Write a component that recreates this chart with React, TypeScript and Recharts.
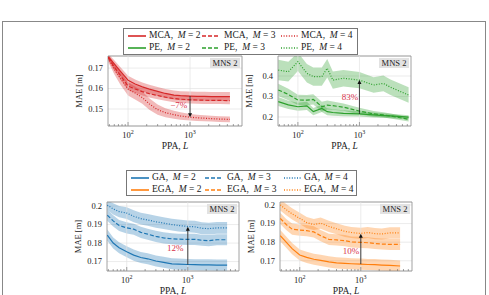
import React from "react";
import {
  ComposedChart,
  Area,
  Line,
  XAxis,
  YAxis,
  CartesianGrid,
  ReferenceLine,
  ReferenceArea,
  ReferenceDot,
} from "recharts";

const FONT = '"Liberation Serif", "DejaVu Serif", serif';
const RED = "#d62728";
const GREEN = "#2ca02c";
const BLUE = "#1f77b4";
const ORANGE = "#ff7f0e";
const NOTE = "#d8314a";

// PPA (points per area) on a log axis
const X_DOMAIN = [47.5, 6890];
const X_TICKS = [50, 60, 70, 80, 90, 100, 200, 300, 400, 500, 600, 700, 800, 900, 1000, 2000, 3000, 4000, 5000, 6000];
const PPA = [48, 60, 75, 100, 130, 170, 220, 300, 400, 550, 700, 1000, 1300, 1700, 2200, 3000, 4400];
const PPA_PE = [48, 70, 100, 140, 178, 245, 300, 370, 550, 1000, 1700, 2450, 3200, 6300];

// MCA
const MCA_M2 = [0.1755, 0.172, 0.1685, 0.1641, 0.1622, 0.1608, 0.1597, 0.1586, 0.1576, 0.1568, 0.1565, 0.1563, 0.1562, 0.1562, 0.1561, 0.1561, 0.1561];
const MCA_M3 = [0.1752, 0.1705, 0.1665, 0.1612, 0.1598, 0.1585, 0.1575, 0.1566, 0.1558, 0.1551, 0.1548, 0.1545, 0.1544, 0.1543, 0.1542, 0.1542, 0.1541];
const MCA_M4 = [0.1748, 0.1695, 0.165, 0.1598, 0.1578, 0.1556, 0.1525, 0.1497, 0.1482, 0.1472, 0.1466, 0.146, 0.1457, 0.1455, 0.1453, 0.1451, 0.1449];
const MCA_M2_SD = [0.0015, 0.0018, 0.002, 0.0022, 0.0022, 0.0022, 0.0022, 0.0022, 0.0022, 0.0022, 0.0022, 0.0022, 0.0022, 0.0022, 0.0022, 0.0022, 0.0022];
const MCA_M3_SD = [0.0015, 0.0018, 0.002, 0.002, 0.002, 0.0019, 0.0019, 0.0018, 0.0018, 0.0018, 0.0018, 0.0018, 0.0018, 0.0018, 0.0018, 0.0018, 0.0018];
const MCA_M4_SD = [0.0018, 0.0025, 0.003, 0.0032, 0.0032, 0.003, 0.0028, 0.0025, 0.0022, 0.002, 0.0018, 0.0016, 0.0015, 0.0015, 0.0014, 0.0014, 0.0014];

// PE
const PE_M2 = [0.275, 0.259, 0.25, 0.254, 0.226, 0.242, 0.226, 0.222, 0.218, 0.215, 0.21, 0.207, 0.205, 0.199];
const PE_M3 = [0.332, 0.31, 0.283, 0.282, 0.286, 0.25, 0.258, 0.255, 0.248, 0.229, 0.215, 0.21, 0.205, 0.189];
const PE_M4 = [0.429, 0.421, 0.47, 0.413, 0.397, 0.397, 0.438, 0.38, 0.389, 0.38, 0.356, 0.364, 0.345, 0.307];
const PE_M2_SD = [0.022, 0.02, 0.02, 0.02, 0.018, 0.018, 0.017, 0.016, 0.015, 0.013, 0.012, 0.011, 0.011, 0.01];
const PE_M3_SD = [0.03, 0.028, 0.025, 0.025, 0.025, 0.024, 0.022, 0.02, 0.018, 0.016, 0.014, 0.013, 0.012, 0.011];
const PE_M4_SD = [0.05, 0.048, 0.045, 0.045, 0.045, 0.045, 0.045, 0.042, 0.04, 0.04, 0.038, 0.038, 0.038, 0.038];

// GA
const GA_M2 = [0.1843, 0.18, 0.1775, 0.1753, 0.1735, 0.1722, 0.1715, 0.1703, 0.1696, 0.1688, 0.1686, 0.1684, 0.1683, 0.1682, 0.1682, 0.1681, 0.1681];
const GA_M3 = [0.1951, 0.192, 0.1895, 0.1882, 0.1875, 0.1858, 0.1848, 0.1836, 0.1828, 0.1823, 0.1821, 0.182, 0.182, 0.1815, 0.1813, 0.1818, 0.1818];
const GA_M4 = [0.2005, 0.1985, 0.197, 0.1962, 0.1945, 0.1932, 0.1925, 0.1915, 0.1908, 0.19, 0.1895, 0.189, 0.1888, 0.188, 0.1878, 0.1882, 0.1882];
const GA_M2_SD = [0.003, 0.003, 0.003, 0.003, 0.003, 0.003, 0.003, 0.003, 0.003, 0.003, 0.003, 0.003, 0.003, 0.003, 0.003, 0.003, 0.003];
const GA_M3_SD = [0.003, 0.003, 0.003, 0.003, 0.003, 0.003, 0.003, 0.003, 0.003, 0.003, 0.003, 0.003, 0.003, 0.003, 0.003, 0.003, 0.003];
const GA_M4_SD = [0.0025, 0.003, 0.003, 0.0032, 0.0032, 0.0032, 0.0032, 0.0032, 0.0032, 0.0032, 0.0032, 0.0032, 0.0032, 0.0032, 0.0032, 0.0032, 0.0032];

// EGA
const EGA_M2 = [0.1835, 0.18, 0.1765, 0.1731, 0.1718, 0.1708, 0.1702, 0.1694, 0.1689, 0.1686, 0.1684, 0.1682, 0.168, 0.1679, 0.1677, 0.1675, 0.1672];
const EGA_M3 = [0.1928, 0.1895, 0.187, 0.1865, 0.1862, 0.1855, 0.1835, 0.1815, 0.1812, 0.1808, 0.1801, 0.1799, 0.1797, 0.1793, 0.179, 0.1788, 0.1788];
const EGA_M4 = [0.2, 0.1975, 0.1952, 0.1928, 0.1905, 0.1895, 0.1902, 0.1885, 0.1872, 0.1858, 0.1852, 0.1847, 0.1852, 0.1846, 0.1844, 0.185, 0.185];
const EGA_M2_SD = [0.003, 0.003, 0.003, 0.003, 0.003, 0.003, 0.003, 0.003, 0.003, 0.003, 0.003, 0.003, 0.003, 0.003, 0.003, 0.003, 0.003];
const EGA_M3_SD = [0.003, 0.003, 0.003, 0.003, 0.003, 0.003, 0.003, 0.003, 0.003, 0.003, 0.003, 0.003, 0.003, 0.003, 0.003, 0.003, 0.003];
const EGA_M4_SD = [0.003, 0.003, 0.003, 0.003, 0.003, 0.003, 0.003, 0.003, 0.003, 0.003, 0.003, 0.003, 0.003, 0.003, 0.003, 0.003, 0.003];

const DASHES = [undefined, "4 2", "1 1.6"];

type Series = { mean: number[]; sd: number[] };

function fmt(v: number) {
  return String(Number(v.toFixed(2)));
}

function XTick({ x, y, payload }: any) {
  const v = payload.value;
  const major = v === 100 || v === 1000;
  return (
    <g>
      <line x1={x} x2={x} y1={y} y2={y - (major ? 4 : 2)} stroke="#666" strokeWidth={0.6} />
      {major && (
        <text x={x} y={y + 12} textAnchor="middle" fontSize={8.5} fill="#222">
          10<tspan dy={-4} fontSize={6}>{v === 100 ? 2 : 3}</tspan>
        </text>
      )}
    </g>
  );
}

function YTick({ x, y, payload }: any) {
  return (
    <text x={x - 5} y={y} dy="0.33em" textAnchor="end" fontSize={8.5} fill="#222">
      {fmt(payload.value)}
    </text>
  );
}

function XLabel({ viewBox }: any) {
  return (
    <text x={viewBox.x + viewBox.width / 2} y={viewBox.y + 23} textAnchor="middle" fontSize={9.5} fill="#222">
      PPA, <tspan fontStyle="italic">L</tspan>
    </text>
  );
}

function YLabel({ viewBox }: any) {
  const cx = viewBox.x + 16;
  const cy = viewBox.y + viewBox.height / 2;
  return (
    <text x={cx} y={cy} transform={`rotate(-90 ${cx} ${cy})`} textAnchor="middle" dy="0.33em" fontSize={8.5} fill="#222">
      MAE [m]
    </text>
  );
}

function Arrow(p: any) {
  const { x1, y1, x2, y2 } = p;
  const d = y2 < y1 ? 1 : -1;
  return (
    <g>
      <line x1={x1} y1={y1} x2={x2} y2={y2 + d * 3} stroke="#111" strokeWidth={0.8} />
      <polygon points={`${x2},${y2} ${x2 - 2},${y2 + d * 4} ${x2 + 2},${y2 + d * 4}`} fill="#111" />
    </g>
  );
}

type PanelProps = {
  plot: { x: number; y: number; w: number; h: number };
  xs: number[];
  series: Series[];
  color: string;
  yDomain: number[];
  yTicks: number[];
  arrow: { from: number; to: number };
  note: { text: string; x: number; y: number };
};

function Panel({ plot, xs, series, color, yDomain, yTicks, arrow, note }: PanelProps) {
  const data = xs.map((x, i) => {
    const row: any = { x };
    series.forEach((s, k) => {
      row["m" + k] = s.mean[i];
      row["b" + k] = [s.mean[i] - s.sd[i], s.mean[i] + s.sd[i]];
    });
    return row;
  });
  const left = plot.x - 45;
  const top = plot.y - 4;
  return (
    <>
      <div style={{ position: "absolute", left, top }}>
        <ComposedChart
          width={45 + plot.w + 4}
          height={4 + plot.h + 30}
          data={data}
          margin={{ top: 4, right: 4, bottom: 0, left: 0 }}
        >
          <CartesianGrid vertical={false} stroke="#e3e3e3" strokeWidth={0.7} />
          <ReferenceLine x={100} stroke="#e3e3e3" strokeWidth={0.7} />
          <ReferenceLine x={1000} stroke="#e3e3e3" strokeWidth={0.7} />
          <XAxis
            dataKey="x"
            type="number"
            scale="log"
            domain={X_DOMAIN}
            allowDataOverflow
            ticks={X_TICKS}
            interval={0}
            tick={<XTick />}
            tickSize={0}
            tickMargin={0}
            axisLine={false}
            tickLine={false}
            height={30}
            label={<XLabel />}
          />
          <YAxis
            type="number"
            domain={yDomain}
            allowDataOverflow
            ticks={yTicks}
            interval={0}
            tick={<YTick />}
            tickSize={0}
            tickMargin={0}
            axisLine={false}
            tickLine={false}
            width={45}
            label={<YLabel />}
          />
          {series.map((_, k) => (
            <Area
              key={"b" + k}
              dataKey={"b" + k}
              type="linear"
              stroke="none"
              fill={color}
              fillOpacity={0.32}
              isAnimationActive={false}
              activeDot={false}
            />
          ))}
          {series.map((_, k) => (
            <Line
              key={"m" + k}
              dataKey={"m" + k}
              type="linear"
              stroke={color}
              strokeWidth={1.2}
              strokeDasharray={DASHES[k]}
              dot={false}
              activeDot={false}
              isAnimationActive={false}
            />
          ))}
          <ReferenceLine
            segment={[
              { x: 1000, y: arrow.from },
              { x: 1000, y: arrow.to },
            ]}
            shape={Arrow}
          />
          <ReferenceDot
            x={note.x}
            y={note.y}
            r={0}
            stroke="none"
            label={{ value: note.text, position: "center", fill: NOTE, fontSize: 9 }}
          />
          <ReferenceArea
            x1={X_DOMAIN[0]}
            x2={X_DOMAIN[1]}
            y1={yDomain[0]}
            y2={yDomain[1]}
            fill="none"
            stroke="#8c8c8c"
            strokeWidth={0.8}
          />
        </ComposedChart>
      </div>
      <div
        style={{
          position: "absolute",
          left: plot.x + plot.w - 32,
          top: plot.y + 2,
          width: 30,
          height: 10,
          background: "#e2e2e2",
          fontSize: 8.5,
          lineHeight: "10px",
          textAlign: "center",
          color: "#222",
        }}
      >
        MNS 2
      </div>
    </>
  );
}

function Sample({ color, dash }: { color: string; dash?: string }) {
  return (
    <svg width={18} height={4} style={{ display: "block" }}>
      <line x1={0} x2={18} y1={2} y2={2} stroke={color} strokeWidth={1.6} strokeDasharray={dash} />
    </svg>
  );
}

function LegendBox({ left, top, width, height, rows }: any) {
  const LINE_X = [4, 78, 157];
  const TEXT_X = [25, 100, 177];
  return (
    <div
      style={{
        position: "absolute",
        left,
        top,
        width,
        height,
        border: "1px solid #777",
        boxSizing: "border-box",
        background: "#fff",
      }}
    >
      {rows.map((row: any, r: number) =>
        [2, 3, 4].map((m, c) => (
          <React.Fragment key={r + "-" + c}>
            <div style={{ position: "absolute", left: LINE_X[c], top: 5 + r * 12 }}>
              <Sample color={row.color} dash={DASHES[c]} />
            </div>
            <div
              style={{
                position: "absolute",
                left: TEXT_X[c],
                top: r * 12,
                fontSize: 9.5,
                lineHeight: "13px",
                whiteSpace: "nowrap",
                color: "#222",
              }}
            >
              {row.name},&nbsp; <i>M</i> = {m}
            </div>
          </React.Fragment>
        ))
      )}
    </div>
  );
}

export default function App() {
  return (
    <div
      style={{
        position: "absolute",
        left: 0,
        top: 0,
        width: 489,
        height: 295,
        overflow: "hidden",
        background: "#fff",
        fontFamily: FONT,
      }}
    >
      <div
        style={{
          position: "absolute",
          left: 2,
          top: 21,
          width: 482,
          height: 300,
          borderLeft: "1px solid #888",
          borderTop: "1px solid #888",
          borderRight: "1px solid #888",
        }}
      />
      <LegendBox
        left={123}
        top={28}
        width={235}
        height={27}
        rows={[
          { name: "MCA", color: RED },
          { name: "PE", color: GREEN },
        ]}
      />
      <LegendBox
        left={126}
        top={170}
        width={231}
        height={26}
        rows={[
          { name: "GA", color: BLUE },
          { name: "EGA", color: ORANGE },
        ]}
      />
      <Panel
        plot={{ x: 108, y: 56, w: 134, h: 70 }}
        xs={PPA}
        series={[
          { mean: MCA_M2, sd: MCA_M2_SD },
          { mean: MCA_M3, sd: MCA_M3_SD },
          { mean: MCA_M4, sd: MCA_M4_SD },
        ]}
        color={RED}
        yDomain={[0.1417, 0.1759]}
        yTicks={[0.15, 0.16, 0.17]}
        arrow={{ from: 0.1563, to: 0.146 }}
        note={{ text: "−7%", x: 660, y: 0.1522 }}
      />
      <Panel
        plot={{ x: 278, y: 56, w: 133, h: 70 }}
        xs={PPA_PE}
        series={[
          { mean: PE_M2, sd: PE_M2_SD },
          { mean: PE_M3, sd: PE_M3_SD },
          { mean: PE_M4, sd: PE_M4_SD },
        ]}
        color={GREEN}
        yDomain={[0.156, 0.4976]}
        yTicks={[0.2, 0.3, 0.4]}
        arrow={{ from: 0.215, to: 0.38 }}
        note={{ text: "83%", x: 700, y: 0.299 }}
      />
      <Panel
        plot={{ x: 107, y: 202, w: 132, h: 69 }}
        xs={PPA}
        series={[
          { mean: GA_M2, sd: GA_M2_SD },
          { mean: GA_M3, sd: GA_M3_SD },
          { mean: GA_M4, sd: GA_M4_SD },
        ]}
        color={BLUE}
        yDomain={[0.1649, 0.2022]}
        yTicks={[0.17, 0.18, 0.19, 0.2]}
        arrow={{ from: 0.1684, to: 0.1888 }}
        note={{ text: "12%", x: 620, y: 0.1773 }}
      />
      <Panel
        plot={{ x: 280, y: 202, w: 132, h: 69 }}
        xs={PPA}
        series={[
          { mean: EGA_M2, sd: EGA_M2_SD },
          { mean: EGA_M3, sd: EGA_M3_SD },
          { mean: EGA_M4, sd: EGA_M4_SD },
        ]}
        color={ORANGE}
        yDomain={[0.1645, 0.2016]}
        yTicks={[0.17, 0.18, 0.19, 0.2]}
        arrow={{ from: 0.1682, to: 0.1845 }}
        note={{ text: "10%", x: 690, y: 0.1754 }}
      />
    </div>
  );
}
